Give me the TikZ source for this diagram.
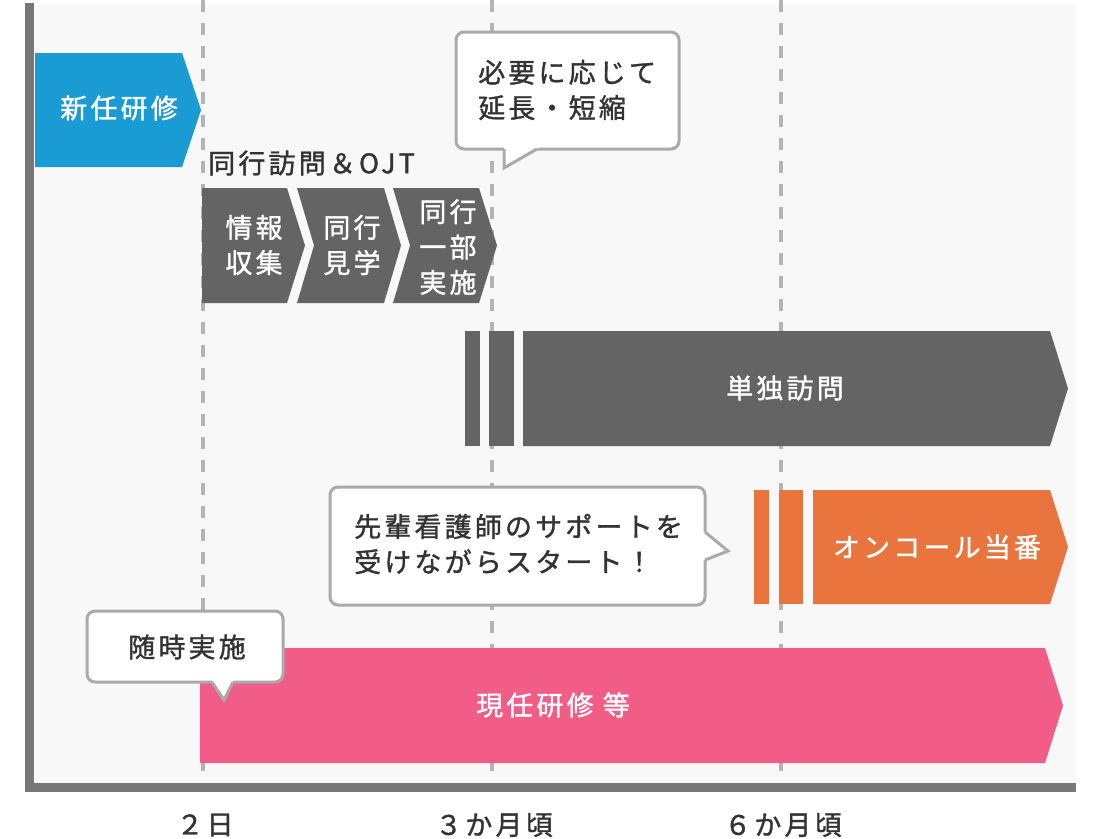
\documentclass[tikz,border=0pt]{standalone}
\usepackage{fontspec}
\newfontfamily\jp[LetterSpace=12, FakeBold=1.3]{Noto Sans CJK JP}
\definecolor{panel}{HTML}{F8F8F8}
\definecolor{axis}{HTML}{777777}
\definecolor{dashc}{HTML}{B4B4B4}
\definecolor{bblue}{HTML}{1A9BD3}
\definecolor{bgray}{HTML}{646464}
\definecolor{borange}{HTML}{EA743D}
\definecolor{bpink}{HTML}{F25D88}
\definecolor{darktext}{HTML}{333333}
\definecolor{cborder}{HTML}{AAAAAA}
\begin{document}
\begin{tikzpicture}[x=0.75pt,y=-0.75pt,
  txt/.style={font=\jp\fontsize{20.2}{26.5}\selectfont, inner sep=0pt},
  wtext/.style={txt, text=white},
  dtext/.style={txt, text=darktext},
  cbox/.style={draw=cborder, fill=white, line width=2.25pt, rounded corners=6pt},
  cedge/.style={draw=cborder, line width=2.25pt, line join=miter},
  vline/.style={draw=dashc, line width=3pt, dash pattern=on 9pt off 8.25pt},
]
\useasboundingbox (0,0) rectangle (1100,839);
\fill[white] (0,0) rectangle (1100,839);
\fill[panel] (34,5) rectangle (1076,783);
% dashed time lines
\draw[vline] (203,0) -- (203,780);
\draw[vline] (492,0) -- (492,780);
\draw[vline] (781,0) -- (781,780);
% axes
\fill[axis] (25,3) rectangle (34,792);
\fill[axis] (25,783) rectangle (1076,792);
% blue
\fill[bblue] (35,53) -- (182,53) -- (201,110) -- (182,167) -- (35,167) -- cycle;
% chevrons
\fill[bgray] (202,188) -- (287,188) -- (305,245.5) -- (287,303) -- (202,303) -- cycle;
\fill[bgray] (297,188) -- (384,188) -- (401,245.5) -- (384,303) -- (297,303) -- (314,245.5) -- cycle;
\fill[bgray] (393,188) -- (479,188) -- (497,245.5) -- (479,303) -- (393,303) -- (410,245.5) -- cycle;
% gray bar
\fill[bgray] (465,331) rectangle (480,446);
\fill[bgray] (489,331) rectangle (514,446);
\fill[bgray] (523,331) -- (1050,331) -- (1068,388.5) -- (1050,446) -- (523,446) -- cycle;
% orange bar
\fill[borange] (754,490) rectangle (769,604);
\fill[borange] (779,490) rectangle (803,604);
\fill[borange] (813,490) -- (1050,490) -- (1068,547) -- (1050,604) -- (813,604) -- cycle;
% pink bar
\fill[bpink] (200,648) -- (1045,648) -- (1063,705.5) -- (1045,763) -- (200,763) -- cycle;
% callout 1
\draw[cbox] (456,32) rectangle (679,149);
\fill[white] (504,146) -- (504,168) -- (537,149) -- (540,146) -- cycle;
\draw[cedge] (504,149) -- (504,168) -- (537,149);
% callout 2
\draw[cbox] (330,487) rectangle (705,605);
\fill[white] (702,532) -- (705,532) -- (728,551) -- (705,560) -- (702,560) -- cycle;
\draw[cedge] (705,532) -- (728,551) -- (705,560);
% callout 3
\draw[cbox] (87,611) rectangle (283,682);
\fill[white] (212,679) -- (212,682) -- (224,700) -- (233,682) -- (233,679) -- cycle;
\draw[cedge] (212,682) -- (224,700) -- (233,682);
% texts
\node[wtext] (shinnin) at (119,108) {新任研修};
\node[dtext, anchor=west] (ojt) at (208,163) {同行訪問＆OJT};
\node[wtext, align=center] (c1) at (254,245) {情報\\収集};
\node[wtext, align=center] (c2) at (352,245) {同行\\見学};
\node[wtext, align=center] (c3) at (448,247) {同行\\一部\\実施};
\node[dtext, anchor=west, align=left] (t1) at (478,90) {必要に応じて\\延長・短縮};
\node[wtext] (tandoku) at (785,388) {単独訪問};
\node[wtext] (oncall) at (937,547) {オンコール当番};
\node[dtext, anchor=west, align=left] (t2) at (354,544) {先輩看護師のサポートを\\受けながらスタート！};
\node[dtext] (zuiji) at (187,647) {随時実施};
\node[wtext] (genin) at (553,705) {現任研修 等};
\node[dtext] (d2) at (205,825) {２日};
\node[dtext] (m3) at (494,825) {３か月頃};
\node[dtext] (m6) at (783,825) {６か月頃};
\end{tikzpicture}
\end{document}
